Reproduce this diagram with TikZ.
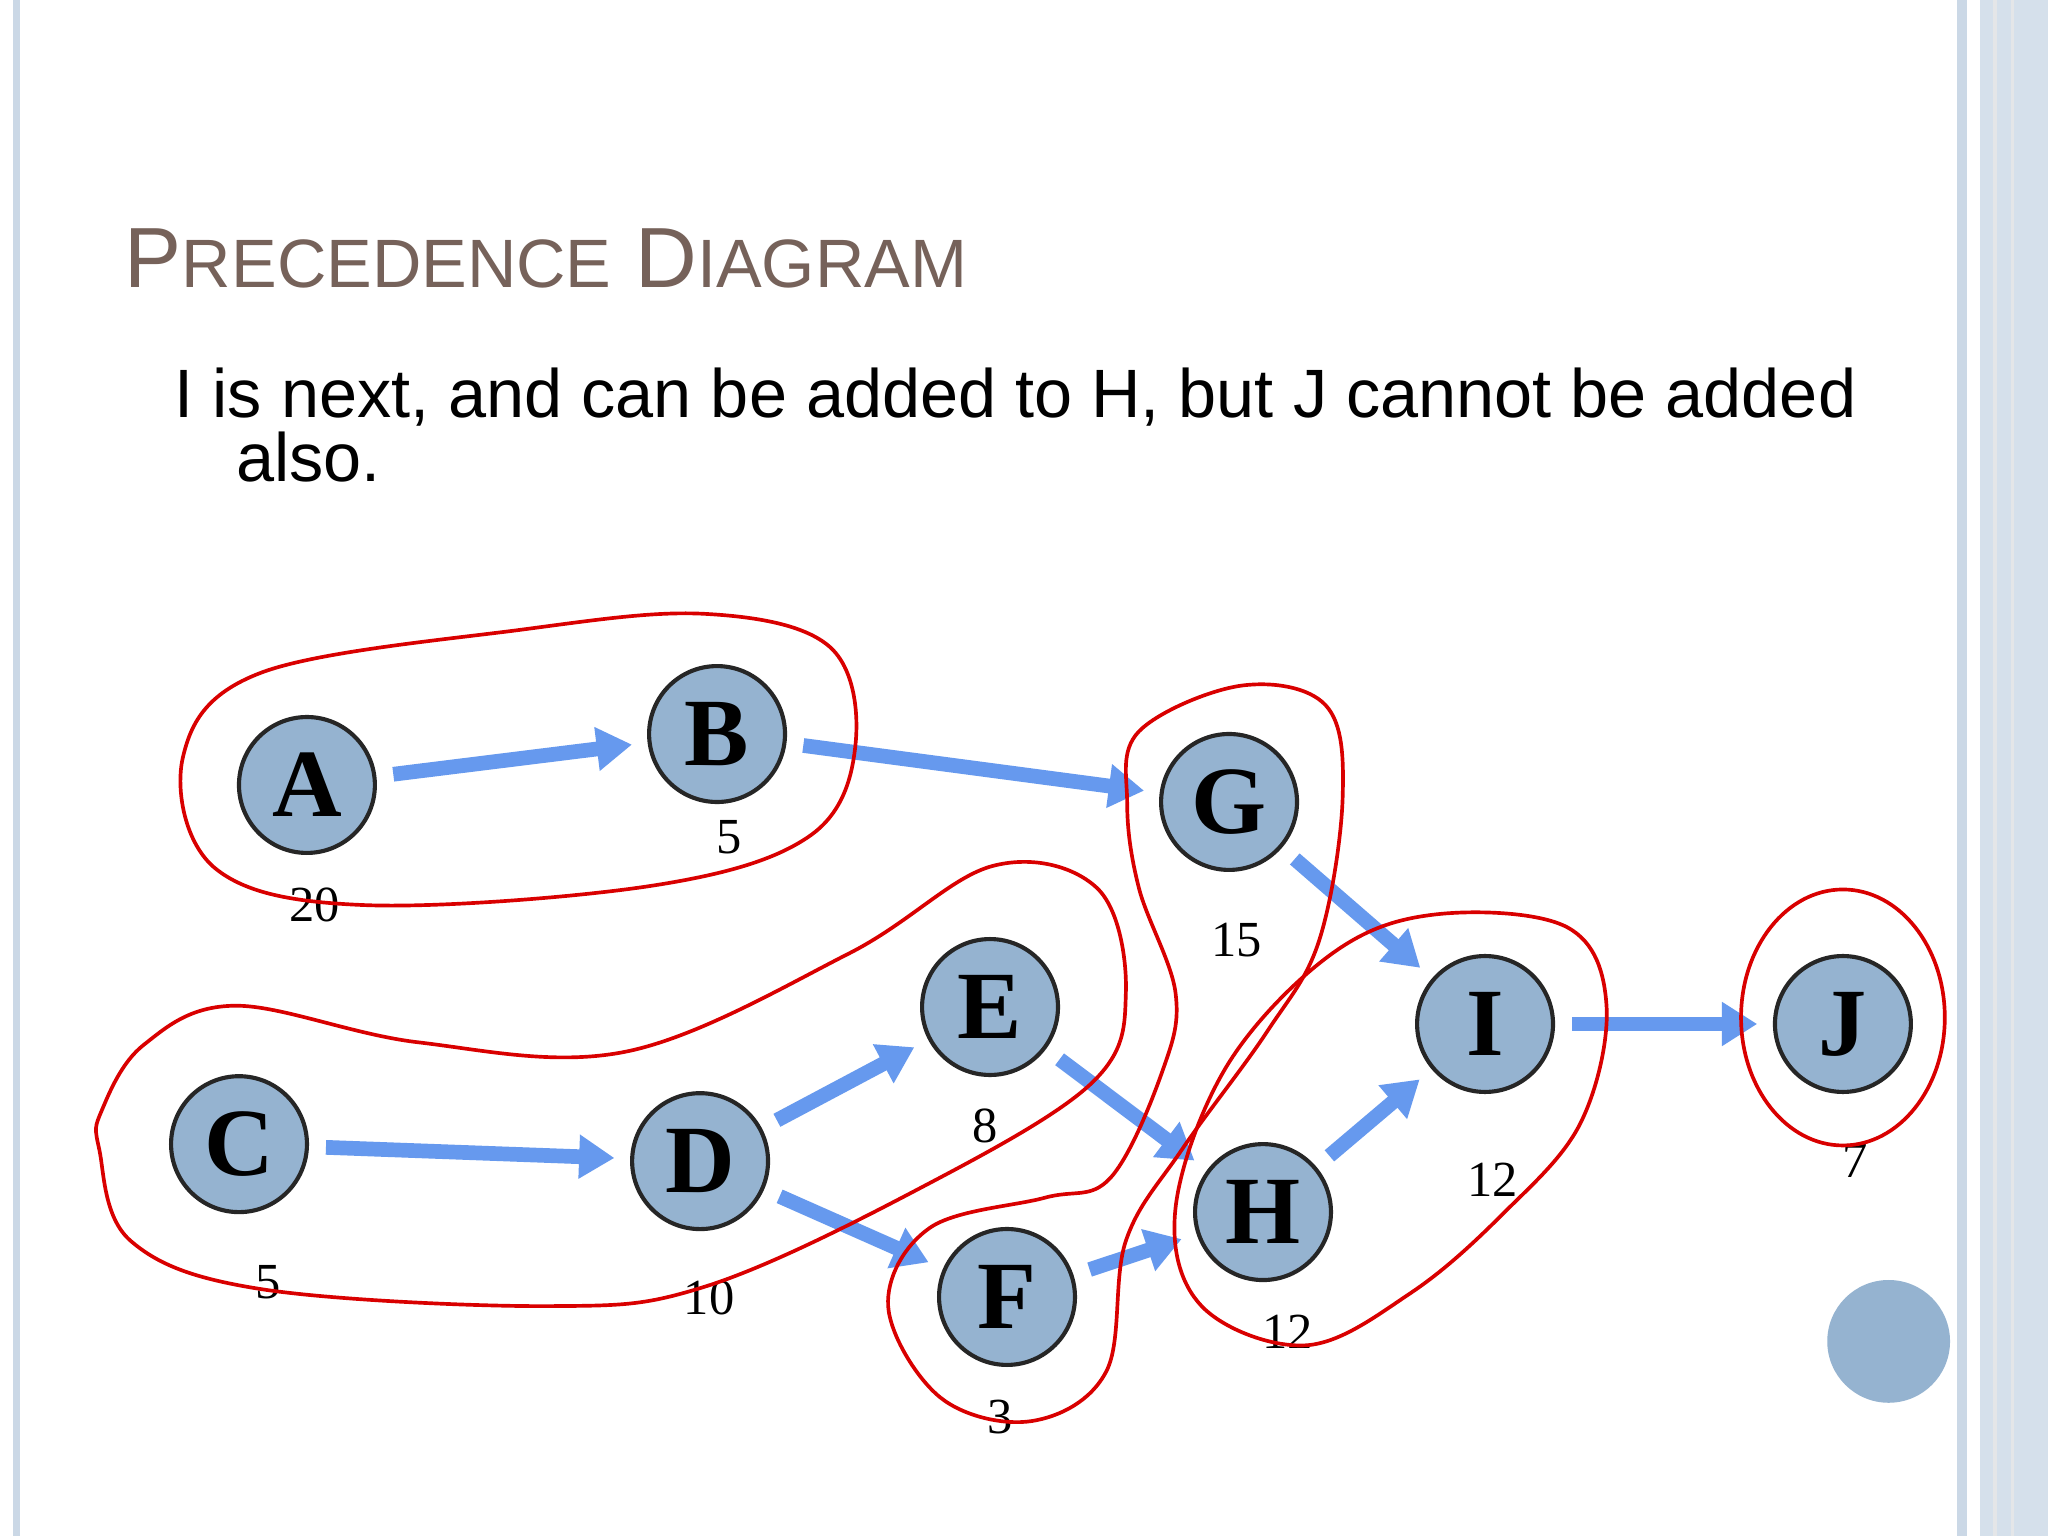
\documentclass[tikz,border=0pt]{standalone}
\usepackage{fontspec}
\setmainfont{Liberation Serif}
\newfontfamily\sans{Liberation Sans}
\usetikzlibrary{arrows.meta}
\definecolor{nodefill}{HTML}{95B3D0}
\definecolor{arr}{HTML}{6699EE}
\definecolor{titlec}{HTML}{76625A}
\definecolor{bord}{HTML}{CBD8E6}
\begin{document}
\begin{tikzpicture}[x=0.01cm,y=-0.01cm,
 task/.style={circle,draw=black!85,line width=0.9pt,fill=nodefill,minimum size=1.04cm,inner sep=0pt,font=\fontsize{21}{21}\selectfont\bfseries},
 lab/.style={font=\fontsize{11}{11}\selectfont},
 con/.style={arr,line width=3.2pt,-{Triangle[length=0.27cm,width=0.32cm]},shorten <=0.13cm,shorten >=0.12cm},
 loop/.style={red!85!black,line width=0.8pt}]
\useasboundingbox (0,0) rectangle (1568,1176);
\fill[white] (0,0) rectangle (1568,1176);
\fill[bord] (10,0) rectangle (15,1176);
\fill[bord] (1498,0) rectangle (1506,1176);
\fill[bord!80] (1516,0) rectangle (1568,1176);
\fill[bord!60!black!20] (1526,0) rectangle (1529,1176);
\fill[bord!60!black!20] (1540,0) rectangle (1542,1176);
\node[anchor=base west,text=titlec,font=\sans\fontsize{18.6}{18.6}\selectfont,inner sep=0] (title) at (95,220) {P{\fontsize{14.9}{14.9}\selectfont RECEDENCE} D{\fontsize{14.9}{14.9}\selectfont IAGRAM}};
\node[anchor=base west,font=\sans\fontsize{14.9}{14.9}\selectfont,inner sep=0] (t1) at (133,320) {I is next, and can be added to H, but J cannot be added};
\node[anchor=base west,font=\sans\fontsize{14.9}{14.9}\selectfont,inner sep=0] (t2) at (180,369) {also.};
\node[task] (A) at (235,601) {A};
\node[task] (B) at (549,562) {B};
\node[task] (G) at (941,614) {G};
\node[task] (E) at (758,771) {E};
\node[task] (C) at (183,876) {C};
\node[task] (D) at (536,889) {D};
\node[task] (F) at (771,993) {F};
\node[task] (H) at (967,928) {H};
\node[task] (I) at (1137,784) {I};
\node[task] (J) at (1411,784) {J};
\fill[nodefill] (1446,1027) circle (47);
\node[lab] (lA) at (241,693) {20};
\node[lab] (lB) at (558,641) {5};
\node[lab] (lG) at (947,720) {15};
\node[lab] (lE) at (754,862) {8};
\node[lab] (lC) at (205,982) {5};
\node[lab] (lD) at (543,994) {10};
\node[lab] (lF) at (766,1085) {3};
\node[lab] (lH) at (986,1020) {12};
\node[lab] (lI) at (1143,903) {12};
\node[lab] (lJ) at (1420,889) {7};
\draw[con] (A) -- (B);
\draw[con] (B) -- (G);
\draw[con] (G) -- (I);
\draw[con] (E) -- (H);
\draw[con] (D) -- (E);
\draw[con] (D) -- (F);
\draw[con] (F) -- (H);
\draw[con] (H) -- (I);
\draw[con] (I) -- (J);
\draw[con] (C) -- (D);
\draw[loop] plot[smooth cycle,tension=0.6] coordinates {(140,580) (200,515) (400,482) (540,470) (635,495) (655,570) (620,640) (500,678) (280,693) (165,665)};
\draw[loop] plot[smooth cycle,tension=0.6] coordinates {(78,850) (110,800) (180,770) (320,798) (480,805) (650,730) (760,663) (840,680) (862,760) (835,830) (700,912) (540,985) (420,1000) (200,987) (100,950) (76,880)};
\draw[loop] plot[smooth cycle,tension=0.6] coordinates {(872,560) (950,525) (1015,540) (1028,610) (1010,720) (970,790) (905,880) (862,950) (847,1050) (790,1088) (720,1070) (680,1000) (712,940) (800,917) (850,902) (890,820) (900,760) (872,680) (863,615)};
\draw[loop] plot[smooth cycle,tension=0.6] coordinates {(940,815) (1020,730) (1100,700) (1200,710) (1230,770) (1210,860) (1150,930) (1080,990) (1000,1030) (920,1000) (900,925)};
\draw[loop] (1411,779) ellipse (78 and 98);
\end{tikzpicture}
\end{document}
